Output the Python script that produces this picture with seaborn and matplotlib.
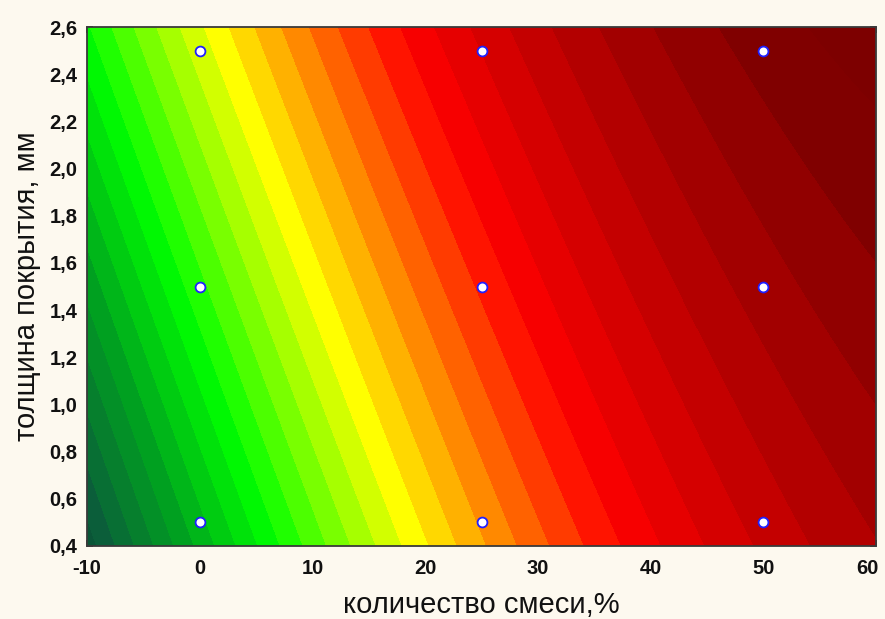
import numpy as np
import matplotlib
matplotlib.use("Agg")
import matplotlib.pyplot as plt
import matplotlib.transforms as mtransforms
import seaborn as sns
from matplotlib.ticker import FixedLocator

# Experimental design: mixture amount (%) x coating thickness (mm)
mix_pct = [0, 0, 0, 25, 25, 25, 50, 50, 50]
thickness_mm = [0.5, 1.5, 2.5, 0.5, 1.5, 2.5, 0.5, 1.5, 2.5]
response = [3.74, 7.6, 11.4, 15.0, 18.2, 21.1, 22.43, 24.5, 26.3]

x_ticks = [-10, 0, 10, 20, 30, 40, 50, 60]
y_ticks = [0.4, 0.6, 0.8, 1.0, 1.2, 1.4, 1.6, 1.8, 2.0, 2.2, 2.4, 2.6]
y_tick_labels = ["0,4", "0,6", "0,8", "1,0", "1,2", "1,4", "1,6", "1,8",
                 "2,0", "2,2", "2,4", "2,6"]

# colour anchors along the response scale (green -> yellow -> red -> dark red)
anchor_pos = [-3.0, -1.5, 2.5, 6.8, 12.5, 19.0, 26.5, 29.0]
anchor_col = ["#0A5035", "#0B5E3A", "#00A020", "#00FF00", "#FFFF00",
              "#FF0000", "#800000", "#780000"]

sns.set_style("white")
plt.rcParams["font.family"] = ["Liberation Sans", "DejaVu Sans"]

bg = "#FDF9EF"
fig = plt.figure(figsize=(8.85, 6.19), dpi=100, facecolor=bg)
ax = fig.add_axes([87 / 885, 1 - 546 / 619, (876 - 87) / 885, (546 - 27) / 619])

# full quadratic response surface fitted to the design points
x = np.asarray(mix_pct, float)
y = np.asarray(thickness_mm, float)
z = np.asarray(response, float)
A = np.column_stack([np.ones_like(x), x, y, x * x, y * y, x * y])
coef, *_ = np.linalg.lstsq(A, z, rcond=None)

gx = np.linspace(x_ticks[0], x_ticks[-1], 400)
gy = np.linspace(y_ticks[0], y_ticks[-1], 400)
GX, GY = np.meshgrid(gx, gy)
GZ = (coef[0] + coef[1] * GX + coef[2] * GY + coef[3] * GX ** 2
      + coef[4] * GY ** 2 + coef[5] * GX * GY)

levels = np.arange(np.floor(GZ.min()) - 1, np.ceil(GZ.max()) + 2)
centers = levels[:-1] + 0.5
rgb = np.array([matplotlib.colors.to_rgb(c) for c in anchor_col])
band_colors = np.column_stack([np.interp(centers, anchor_pos, rgb[:, i]) for i in range(3)])
band_colors = np.clip(band_colors, 0, 1)

cs = ax.contourf(GX, GY, GZ, levels=levels, colors=[tuple(c) for c in band_colors])
cs.set_edgecolor("face")
cs.set_linewidth(0.6)

sns.scatterplot(x=mix_pct, y=thickness_mm, ax=ax, s=50, color="white",
                edgecolor="#1F1FFF", linewidth=1.3, zorder=5, legend=False,
                clip_on=False)

ax.set_xlim(x_ticks[0], x_ticks[-1])
ax.set_ylim(y_ticks[0], y_ticks[-1])
ax.xaxis.set_major_locator(FixedLocator(x_ticks))
ax.set_xticklabels([str(v) for v in x_ticks])
ax.yaxis.set_major_locator(FixedLocator(y_ticks))
ax.set_yticklabels(y_tick_labels)

ax.tick_params(axis="both", which="major", direction="in", length=4, width=1.2,
               color="#222222", top=True, right=True, bottom=True, left=True,
               labelsize=14.5, labelcolor="#111111")
ax.tick_params(axis="y", pad=7)
ax.tick_params(axis="x", pad=9)
for lab in ax.get_xticklabels() + ax.get_yticklabels():
    lab.set_fontweight("bold")

# keep the last x label inside the figure edge
last = ax.get_xticklabels()[-1]
last.set_transform(last.get_transform()
                   + mtransforms.ScaledTranslation(-6 / 72, 0, fig.dpi_scale_trans))

for sp in ax.spines.values():
    sp.set_visible(True)
    sp.set_color("#3A3A3A")
    sp.set_linewidth(1.3)

ax.set_xlabel("количество смеси,%", fontsize=21, color="#111111", labelpad=10)
ax.set_ylabel("толщина покрытия, мм", fontsize=21, color="#111111", labelpad=6)

fig.savefig("out.png", dpi=100, facecolor=bg)
